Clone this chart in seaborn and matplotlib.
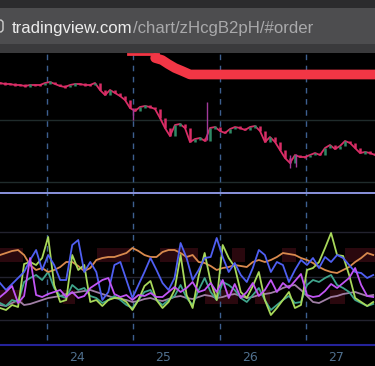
import numpy as np
import pandas as pd
import matplotlib
matplotlib.use("Agg")
import matplotlib.pyplot as plt
import seaborn as sns
from matplotlib.patches import Rectangle, FancyBboxPatch

# ---------------- data ----------------
url_host = "tradingview.com"
url_path = "/chart/zHcgB2pH/#order"

day_labels = ["24", "25", "26", "27"]
day_label_hours = [21.4, 45.4, 69.4, 93.4]
session_break_hours = [13.06, 37.06, 61.06, 85.06]

price_close = [117, 116, 116, 115, 115, 114, 115, 115, 115, 117, 118, 116, 114, 113, 115, 116, 116, 115, 115, 117,
               110, 105, 110, 107, 104, 100, 92, 89, 93, 94, 93, 91, 82, 72, 64, 75, 76, 72, 58, 61,
               62, 59, 72, 73, 69, 67, 71, 73, 72, 70, 73, 74, 69, 58, 63, 58, 50, 42, 37, 45,
               43, 43, 45, 47, 45, 52, 55, 51, 54, 59, 57, 52, 47, 48, 47, 45]
wick_hours = [57.5, 80.6, 82.2, 36.9]
wick_high = [98, 45, 46, 92]
wick_low = [60, 32, 33, 80]

stop_thin_hours = [35.6, 43.9]
stop_thin_vals = [146, 146]
stop_hours = [43.1, 45.0, 46.7, 48.6, 50.6, 52.8, 104.2]
stop_vals = [142, 140, 136, 132, 129, 125.5, 125.5]

price_levels = [80, 18]
osc_levels = [98, 53, 10]

osc_orange = [75, 77, 79, 80, 75, 65, 60, 62, 58, 60, 63, 68, 68, 64, 59, 62, 70, 72, 73, 73,
              75, 77, 82, 79, 75, 73, 73, 78, 80, 80, 77, 73, 75, 68, 67, 64, 60, 62, 63, 65,
              64, 63, 68, 70, 68, 70, 73, 77, 76, 75, 72, 70, 67, 63, 60, 58, 57, 60, 63, 68,
              72, 77, 75]
osc_blue = [47, 40, 46, 52, 58, 70, 80, 60, 75, 65, 50, 50, 85, 90, 58, 68, 58, 30, 38, 65,
            68, 50, 32, 45, 58, 72, 60, 47, 40, 52, 87, 72, 50, 60, 72, 73, 92, 73, 58, 67,
            55, 48, 62, 80, 75, 58, 68, 65, 48, 60, 70, 65, 72, 62, 73, 68, 75, 72, 65, 58,
            57, 52, 55]
osc_green = [22, 20, 25, 23, 66, 68, 65, 72, 93, 45, 28, 30, 75, 60, 65, 28, 30, 24, 30, 32,
             32, 28, 20, 30, 44, 49, 30, 22, 28, 40, 75, 35, 22, 54, 77, 48, 30, 85, 72, 63,
             38, 32, 44, 58, 30, 15, 22, 30, 38, 22, 25, 60, 62, 68, 82, 97, 75, 74, 55, 32,
             28, 24, 28]
osc_teal = [27, 24, 30, 28, 48, 52, 55, 50, 58, 42, 34, 32, 45, 40, 42, 34, 32, 27, 30, 34,
            30, 25, 22, 30, 38, 40, 30, 25, 30, 34, 45, 32, 25, 40, 52, 38, 30, 48, 45, 40,
            32, 28, 35, 42, 30, 20, 25, 30, 34, 27, 28, 45, 50, 48, 52, 55, 45, 42, 38, 30,
            27, 24, 26]
osc_violet = [33, 38, 44, 27, 34, 72, 35, 33, 36, 38, 40, 33, 38, 32, 34, 42, 46, 50, 52, 36,
              33, 35, 30, 35, 34, 37, 33, 33, 38, 43, 38, 42, 48, 38, 40, 47, 38, 50, 32, 46,
              32, 38, 47, 34, 40, 50, 38, 47, 42, 49, 56, 35, 33, 34, 39, 46, 42, 47, 52, 62,
              45, 34, 33]
osc_mauve = [25, 24, 27, 30, 25, 26, 28, 30, 32, 33, 34, 36, 37, 38, 39, 40, 38, 36, 34, 32,
             31, 30, 28, 29, 31, 32, 30, 29, 31, 33, 34, 32, 31, 33, 35, 34, 32, 33, 35, 36,
             34, 32, 33, 35, 36, 37, 39, 42, 44, 45, 40, 34, 28, 27, 30, 33, 34, 36, 37, 38,
             36, 34, 35]

upper_zone_spans = [(0, 6.4), (26.9, 36.1), (44.4, 55.0), (64.4, 68.0), (78.3, 82.2), (95.8, 104.2)]
lower_zone_spans = [(0, 6.4), (17.5, 20.8), (56.9, 66.1), (70.8, 75.0), (91.7, 95.8)]
upper_zone = (68, 82)
lower_zone = (26, 40)

# ---------------- figure ----------------
W, H = 375, 366
X_MAX = 104.17
fig = plt.figure(figsize=(W / 100, H / 100), dpi=100, facecolor="black")


def fy(px):
    return 1 - px / H


# browser bar
fig.patches.append(Rectangle((0, fy(53)), 1, 53 / H, transform=fig.transFigure,
                             facecolor="#3a3a3c", edgecolor="none", zorder=0))
fig.patches.append(Rectangle((0, fy(8)), 1, 8 / H, transform=fig.transFigure,
                             facecolor="#2b2b2d", edgecolor="none", zorder=0))
fig.patches.append(FancyBboxPatch((-0.05, fy(44)), 1.1, 36 / H, transform=fig.transFigure,
                                  boxstyle="round,pad=0,rounding_size=0.02",
                                  facecolor="#4d4d4f", edgecolor="none", zorder=1))
fig.patches.append(FancyBboxPatch((-8 / W, fy(32)), 11 / W, 12 / H, transform=fig.transFigure,
                                  boxstyle="round,pad=0,rounding_size=0.008",
                                  facecolor="none", edgecolor="#d0d0d0", linewidth=1.0, zorder=2))

t1 = fig.text(12 / W, fy(33), url_host, color="#ececec", fontsize=12.3,
              family="Liberation Sans", va="baseline", ha="left", zorder=3)
fig.canvas.draw()
r = fig.canvas.get_renderer()
bb = t1.get_window_extent(r)
scale = 121.0 / bb.width
t1.set_fontsize(12.3 * scale)
fig.canvas.draw()
bb = t1.get_window_extent(r)
fig.text(bb.x1 / W, fy(33), url_path, color="#a9a9ab", fontsize=12.3 * scale,
         family="Liberation Sans", va="baseline", ha="left", zorder=3)

# ---------------- price pane ----------------
ax1 = fig.add_axes([0, fy(193), 1, 140 / H])
ax1.set_facecolor("black")
ax1.set_xlim(0, X_MAX)
ax1.set_ylim(7, 147)
ax1.axis("off")

for lv in price_levels:
    ax1.axhline(lv, color="#1f2b2b", lw=1.0, zorder=1)
for hx in session_break_hours:
    ax1.axvline(hx, color="#3d5f8f", lw=1.0, ls=(0, (4, 4)), zorder=1)

t_price = np.linspace(0, X_MAX, len(price_close))
price_df = pd.DataFrame({"t": t_price, "close": price_close})
sns.lineplot(data=price_df, x="t", y="close", ax=ax1, color="#d92d66", lw=1.3, zorder=3)
opens = [price_close[0]] + price_close[:-1]
for t, o, c in zip(t_price, opens, price_close):
    col = "#2f8a66" if c > o else "#d92d66"
    lo, hi = min(o, c), max(o, c)
    if hi - lo < 1.2:
        hi += 0.7
        lo -= 0.7
    ax1.vlines(t, lo, hi, color=col, lw=1.8, zorder=4)
for t, h, l in zip(wick_hours, wick_high, wick_low):
    ax1.vlines(t, l, h, color="#a13a9a", lw=1.0, zorder=4)

sns.lineplot(x=stop_thin_hours, y=stop_thin_vals, ax=ax1, color="#f23645", lw=2.0, zorder=5)
sns.lineplot(x=stop_hours, y=stop_vals, ax=ax1, color="#f23645", lw=7.0, zorder=5,
             solid_capstyle="round", solid_joinstyle="round")

# ---------------- oscillator pane ----------------
ax2 = fig.add_axes([0, fy(345), 1, 152 / H])
ax2.set_facecolor("black")
ax2.set_xlim(0, X_MAX)
ax2.set_ylim(-15, 137)
for s in ["left", "right"]:
    ax2.spines[s].set_visible(False)
ax2.spines["top"].set_color("#8a92dc")
ax2.spines["top"].set_linewidth(1.4)
ax2.spines["bottom"].set_color("#25239a")
ax2.spines["bottom"].set_linewidth(1.5)
ax2.set_yticks([])
ax2.set_xticks(day_label_hours)
ax2.set_xticklabels(day_labels)
ax2.tick_params(axis="x", length=0, pad=4, labelsize=9, labelcolor="#4f6f8d")

for a, b in upper_zone_spans:
    ax2.fill_between([a, b], upper_zone[0], upper_zone[1], color="#2a080e", lw=0, zorder=1)
for a, b in lower_zone_spans:
    ax2.fill_between([a, b], lower_zone[0], lower_zone[1], color="#2a080e", lw=0, zorder=1)
for lv in osc_levels:
    ax2.axhline(lv, color="#22222e", lw=1.0, zorder=1)
for hx in session_break_hours:
    ax2.axvline(hx, ymin=5 / 152, ymax=1, color="#3d5f8f", lw=1.0, ls=(0, (4, 4)), zorder=1)

t_osc = np.linspace(0, X_MAX - 0.5, len(osc_orange))
osc_df = pd.concat([
    pd.DataFrame({"t": t_osc, "v": osc_mauve, "s": "mauve"}),
    pd.DataFrame({"t": t_osc, "v": osc_teal, "s": "teal"}),
    pd.DataFrame({"t": t_osc, "v": osc_orange, "s": "orange"}),
    pd.DataFrame({"t": t_osc, "v": osc_green, "s": "green"}),
    pd.DataFrame({"t": t_osc, "v": osc_blue, "s": "blue"}),
    pd.DataFrame({"t": t_osc, "v": osc_violet, "s": "violet"}),
])
palette = {"mauve": "#a07fa5", "teal": "#3fa58c", "orange": "#d98a4e",
           "green": "#a8d85a", "blue": "#4f5ff2", "violet": "#c155f5"}
sns.lineplot(data=osc_df, x="t", y="v", hue="s", palette=palette, ax=ax2,
             lw=1.3, legend=False, zorder=3)
ax2.set_xlabel("")
ax2.set_ylabel("")
ax1.set_xlabel("")
ax1.set_ylabel("")

fig.savefig("out.png", dpi=100, facecolor="black")
